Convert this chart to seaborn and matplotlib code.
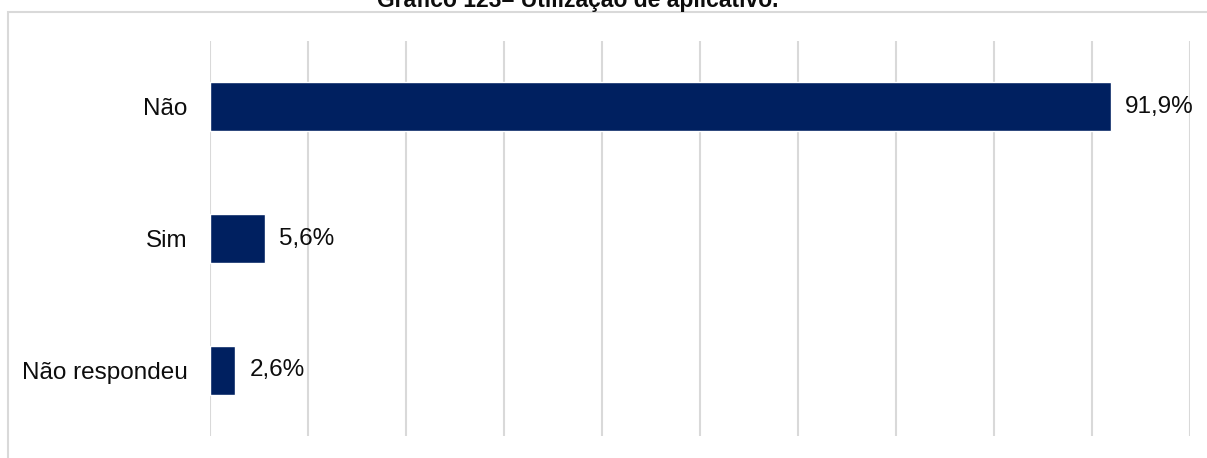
import pandas as pd
import matplotlib.pyplot as plt
from matplotlib.patches import Rectangle
import seaborn as sns

# %% Data
categories = ['Não', 'Sim', 'Não respondeu']
values = [91.9, 5.6, 2.6]
value_labels = ['91,9%', '5,6%', '2,6%']
title = 'Gráfico 123– Utilização de aplicativo.'

df = pd.DataFrame({'categoria': categories, 'pct': values})

# %% Plot
sns.set_style('white')
plt.rcParams['font.family'] = ['Liberation Sans', 'DejaVu Sans']

W, H = 1207, 458
fig = plt.figure(figsize=(W / 100, H / 100), dpi=100)
ax = fig.add_axes([210 / W, 1 - 436 / H, 980 / W, 395 / H])

sns.barplot(data=df, x='pct', y='categoria', color='#002060', width=0.37,
            saturation=1, ax=ax, zorder=3)

ax.set_xlim(0, 100)
ax.set_ylim(2.5, -0.5)
ax.set_xticks(range(0, 101, 10))
ax.xaxis.grid(True, color='#d9d9d9', linewidth=1.5, zorder=0)
ax.set_xticklabels([])
ax.tick_params(axis='x', length=0)
ax.tick_params(axis='y', length=0, labelsize=17.5, colors='#0d0d0d', pad=16)
ax.set_xlabel('')
ax.set_ylabel('')
for s in ax.spines.values():
    s.set_visible(False)

for i, (v, lab) in enumerate(zip(values, value_labels)):
    ax.annotate(lab, (v, i), xytext=(14, 0), textcoords='offset pixels',
                va='center', ha='left', fontsize=17.5, color='#0d0d0d')

# outer frame (cropped by the image edges)
fig.patches.append(Rectangle((8 / W, -0.1), 1.2, 1 - 12 / H + 0.1,
                             transform=fig.transFigure, fill=False,
                             edgecolor='#d9d9d9', linewidth=1.5))

fig.text(578 / W, 1 - 7 / H, title, ha='center', va='baseline',
         fontsize=16.5, fontweight='bold', color='#0d0d0d')

fig.savefig('out.png', dpi=100)
